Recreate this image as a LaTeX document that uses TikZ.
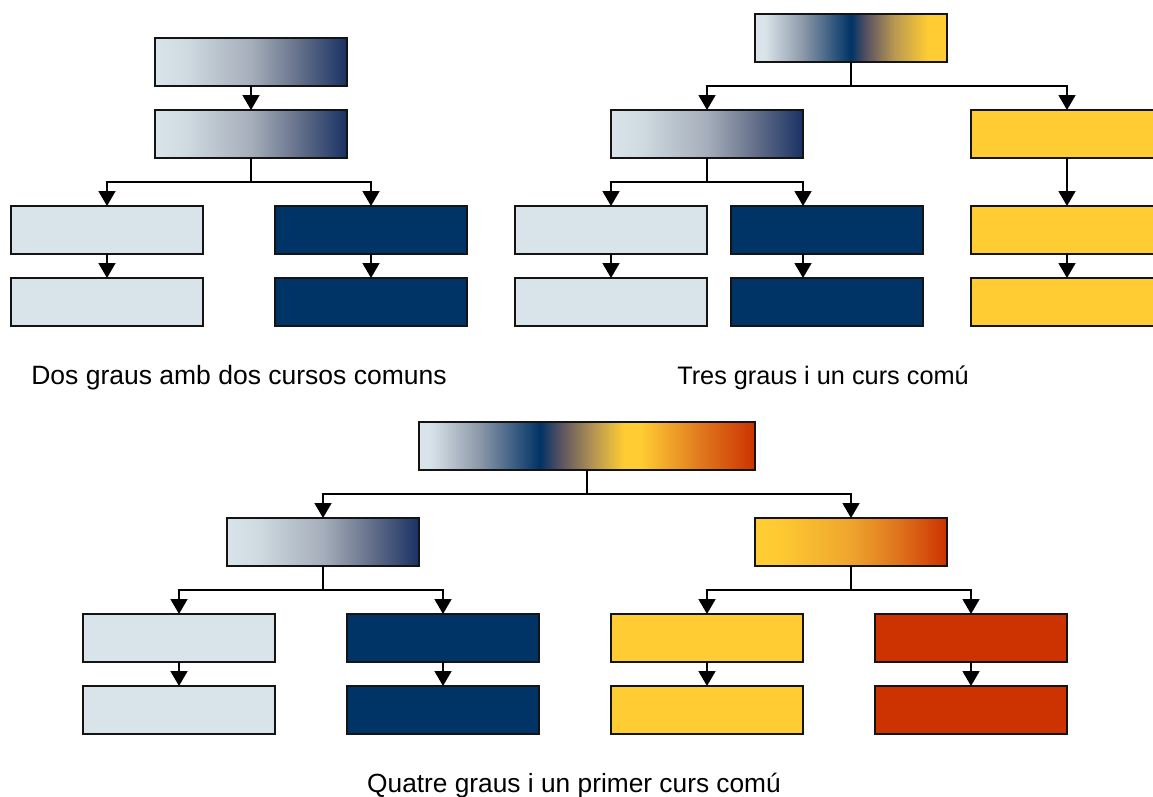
\documentclass[tikz,border=0pt]{standalone}
\usepackage{fontspec}
\setmainfont{Liberation Sans}
\usetikzlibrary{arrows.meta}
\definecolor{lb}{RGB}{217,228,234}
\definecolor{lb2}{RGB}{208,219,226}
\definecolor{gm}{RGB}{165,174,186}
\definecolor{gd}{RGB}{100,112,138}
\definecolor{gq}{RGB}{140,152,168}
\definecolor{nv}{RGB}{0,51,102}
\definecolor{nvr}{RGB}{25,50,100}
\definecolor{pg}{RGB}{88,82,98}
\definecolor{tan}{RGB}{182,150,82}
\definecolor{yl}{RGB}{255,204,51}
\definecolor{ym}{RGB}{238,165,45}
\definecolor{ora}{RGB}{222,115,28}
\definecolor{rd}{RGB}{204,51,0}
\definecolor{bd}{RGB}{20,20,20}
\pgfdeclarehorizontalshading{gLN}{100bp}{color(0bp)=(lb); color(25bp)=(lb); color(32.5bp)=(lb2); color(50bp)=(gm); color(62.5bp)=(gd); color(75bp)=(nvr); color(100bp)=(nvr)}
\pgfdeclarehorizontalshading{gLNY}{100bp}{color(0bp)=(lb); color(27.5bp)=(lb); color(37.5bp)=(gq); color(50bp)=(nv); color(54bp)=(pg); color(61bp)=(tan); color(70bp)=(yl); color(100bp)=(yl)}
\pgfdeclarehorizontalshading{gYR}{100bp}{color(0bp)=(yl); color(30bp)=(yl); color(50bp)=(ym); color(62.5bp)=(ora); color(75bp)=(rd); color(100bp)=(rd)}
\pgfdeclarehorizontalshading{gLNYR}{100bp}{color(0bp)=(lb); color(26.5bp)=(lb); color(34bp)=(gq); color(43bp)=(nv); color(46bp)=(pg); color(51bp)=(tan); color(55.5bp)=(yl); color(58bp)=(yl); color(67.5bp)=(ora); color(75bp)=(rd); color(100bp)=(rd)}
\tikzset{
  box/.style={draw=bd, line width=1.5pt, minimum width=192pt, minimum height=48pt, inner sep=0pt, outer sep=0pt},
  wbox/.style={box, minimum width=336pt},
  lightbox/.style={box, fill=lb},
  navybox/.style={box, fill=nv},
  yellowbox/.style={box, fill=yl},
  redbox/.style={box, fill=rd},
  conn/.style={draw=black, line width=1.5pt},
  arr/.style={conn, -{Triangle[length=15pt,width=17pt]}},
  lab/.style={anchor=base, inner sep=0pt}
}
\begin{document}
\begin{tikzpicture}[x=1pt,y=-1pt]
\useasboundingbox (0,0) rectangle (1153,796);
\clip (0,0) rectangle (1153,796);
% ---------- Diagram 1 ----------
\node[box, shading=gLN] (a1) at (251,62) {};
\node[box, shading=gLN] (b1) at (251,134) {};
\node[lightbox] (c1) at (107,230) {};
\node[navybox] (d1) at (371,230) {};
\node[lightbox] (e1) at (107,302) {};
\node[navybox] (f1) at (371,302) {};
\draw[arr] (a1.south) -- (b1.north);
\draw[conn] (b1.south) -- ++(0,24) coordinate (j1);
\draw[arr] (j1) -| (c1.north);
\draw[arr] (j1) -| (d1.north);
\draw[arr] (c1.south) -- (e1.north);
\draw[arr] (d1.south) -- (f1.north);
\node[lab, font=\fontsize{26.5pt}{30pt}\selectfont] (l1) at (239,384) {Dos graus amb dos cursos comuns};
% ---------- Diagram 2 ----------
\node[box, shading=gLNY] (g2) at (851,38) {};
\node[box, shading=gLN] (h2) at (707,134) {};
\node[yellowbox] (i2) at (1067,134) {};
\node[lightbox] (j2) at (611,230) {};
\node[navybox] (k2) at (827,230) {};
\node[yellowbox] (m2) at (1067,230) {};
\node[lightbox] (n2) at (611,302) {};
\node[navybox] (o2) at (827,302) {};
\node[yellowbox] (p2) at (1067,302) {};
\draw[conn] (g2.south) -- ++(0,24) coordinate (jg);
\draw[arr] (jg) -| (h2.north);
\draw[arr] (jg) -| (i2.north);
\draw[conn] (h2.south) -- ++(0,24) coordinate (jh);
\draw[arr] (jh) -| (j2.north);
\draw[arr] (jh) -| ([xshift=-24pt]k2.north);
\draw[arr] (i2.south) -- (m2.north);
\draw[arr] (j2.south) -- (n2.north);
\draw[arr] ([xshift=-24pt]k2.south) -- ([xshift=-24pt]o2.north);
\draw[arr] (m2.south) -- (p2.north);
\node[lab, font=\fontsize{25.3pt}{30pt}\selectfont] (l2) at (823,384) {Tres graus i un curs comú};
% ---------- Diagram 3 ----------
\node[wbox, shading=gLNYR] (t3) at (587,446) {};
\node[box, shading=gLN] (u3) at (323,542) {};
\node[box, shading=gYR] (v3) at (851,542) {};
\node[lightbox] (q1) at (179,638) {};
\node[navybox] (q2) at (443,638) {};
\node[yellowbox] (q3) at (707,638) {};
\node[redbox] (q4) at (971,638) {};
\node[lightbox] (r1) at (179,710) {};
\node[navybox] (r2) at (443,710) {};
\node[yellowbox] (r3) at (707,710) {};
\node[redbox] (r4) at (971,710) {};
\draw[conn] (t3.south) -- ++(0,24) coordinate (jt);
\draw[arr] (jt) -| (u3.north);
\draw[arr] (jt) -| (v3.north);
\draw[conn] (u3.south) -- ++(0,24) coordinate (ju);
\draw[arr] (ju) -| (q1.north);
\draw[arr] (ju) -| (q2.north);
\draw[conn] (v3.south) -- ++(0,24) coordinate (jv);
\draw[arr] (jv) -| (q3.north);
\draw[arr] (jv) -| (q4.north);
\draw[arr] (q1.south) -- (r1.north);
\draw[arr] (q2.south) -- (r2.north);
\draw[arr] (q3.south) -- (r3.north);
\draw[arr] (q4.south) -- (r4.north);
\node[lab, font=\fontsize{26.3pt}{30pt}\selectfont] (l3) at (574,792) {Quatre graus i un primer curs comú};
\end{tikzpicture}
\end{document}
